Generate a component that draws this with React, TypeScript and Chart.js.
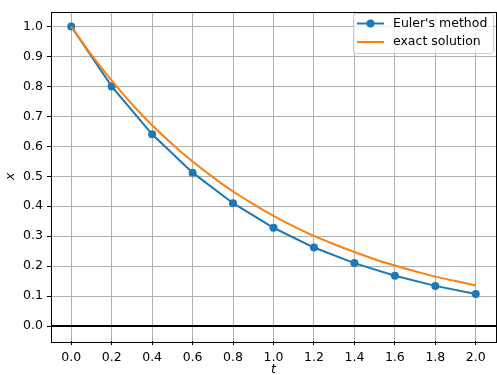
import React, { useEffect, useRef } from "react";
import { Chart, registerables } from "chart.js";

Chart.register(...registerables);

const eulerT = [0.0, 0.2, 0.4, 0.6, 0.8, 1.0, 1.2, 1.4, 1.6, 1.8, 2.0];
const eulerX = [1.0, 0.8, 0.64, 0.512, 0.41, 0.328, 0.262, 0.21, 0.168, 0.134, 0.107];

const exactT = [0.0, 0.1, 0.2, 0.3, 0.4, 0.5, 0.6, 0.7, 0.8, 0.9, 1.0, 1.1, 1.2, 1.3, 1.4, 1.5, 1.6, 1.7, 1.8, 1.9, 2.0];
const exactX = [1.0, 0.905, 0.819, 0.741, 0.67, 0.607, 0.549, 0.497, 0.449, 0.407, 0.368, 0.333, 0.301, 0.273, 0.247, 0.223, 0.202, 0.183, 0.165, 0.15, 0.135];

const xTicks = [0.0, 0.2, 0.4, 0.6, 0.8, 1.0, 1.2, 1.4, 1.6, 1.8, 2.0];
const yTicks = [0.0, 0.1, 0.2, 0.3, 0.4, 0.5, 0.6, 0.7, 0.8, 0.9, 1.0];

const seriesLabels = ["Euler's method", "exact solution"];
const BLUE = "#1f77b4";
const ORANGE = "#ff7f0e";
const FONT = "'DejaVu Sans', sans-serif";
const FS = 12.5;

export default function App() {
  const ref = useRef<HTMLCanvasElement>(null);

  useEffect(() => {
    if (!ref.current) return;

    const framePlugin = {
      id: "frame",
      beforeDatasetsDraw(chart: any) {
        const { ctx, chartArea, scales } = chart;
        const y0 = scales.y.getPixelForValue(0);
        ctx.save();
        ctx.strokeStyle = "#000";
        ctx.lineWidth = 2;
        ctx.beginPath();
        ctx.moveTo(chartArea.left, y0);
        ctx.lineTo(chartArea.right, y0);
        ctx.stroke();
        ctx.restore();
      },
      afterDraw(chart: any) {
        const { ctx, chartArea } = chart;
        ctx.save();
        ctx.strokeStyle = "#000";
        ctx.lineWidth = 1;
        ctx.strokeRect(
          Math.round(chartArea.left) + 0.5,
          Math.round(chartArea.top) + 0.5,
          Math.round(chartArea.right - chartArea.left),
          Math.round(chartArea.bottom - chartArea.top)
        );
        // legend
        const bx = 353.5, by = 13.5, bw = 140, bh = 40, r = 3;
        ctx.fillStyle = "rgba(255,255,255,0.8)";
        ctx.strokeStyle = "#cccccc";
        ctx.beginPath();
        ctx.moveTo(bx + r, by);
        ctx.lineTo(bx + bw - r, by);
        ctx.arcTo(bx + bw, by, bx + bw, by + r, r);
        ctx.lineTo(bx + bw, by + bh - r);
        ctx.arcTo(bx + bw, by + bh, bx + bw - r, by + bh, r);
        ctx.lineTo(bx + r, by + bh);
        ctx.arcTo(bx, by + bh, bx, by + bh - r, r);
        ctx.lineTo(bx, by + r);
        ctx.arcTo(bx, by, bx + r, by, r);
        ctx.closePath();
        ctx.fill();
        ctx.stroke();

        const rows = [
          { y: 23.5, color: BLUE, marker: true, label: seriesLabels[0] },
          { y: 42, color: ORANGE, marker: false, label: seriesLabels[1] },
        ];
        for (const row of rows) {
          ctx.strokeStyle = row.color;
          ctx.lineWidth = 2;
          ctx.beginPath();
          ctx.moveTo(357, row.y);
          ctx.lineTo(384, row.y);
          ctx.stroke();
          if (row.marker) {
            ctx.fillStyle = row.color;
            ctx.beginPath();
            ctx.arc(370.5, row.y, 4, 0, Math.PI * 2);
            ctx.fill();
          }
          ctx.fillStyle = "#000";
          ctx.font = `${FS}px ${FONT}`;
          ctx.textBaseline = "middle";
          ctx.textAlign = "left";
          ctx.fillText(row.label, 393, row.y);
        }
        ctx.restore();
      },
    };

    const chart = new Chart(ref.current, {
      type: "line",
      data: {
        datasets: [
          {
            label: seriesLabels[0],
            data: eulerT.map((t, i) => ({ x: t, y: eulerX[i] })),
            borderColor: BLUE,
            backgroundColor: BLUE,
            borderWidth: 2,
            pointRadius: 4,
            pointBorderWidth: 0,
            pointBackgroundColor: BLUE,
            order: 1,
          },
          {
            label: seriesLabels[1],
            data: exactT.map((t, i) => ({ x: t, y: exactX[i] })),
            borderColor: ORANGE,
            borderWidth: 2,
            pointRadius: 0,
            cubicInterpolationMode: "monotone",
            order: 0,
          },
        ],
      },
      options: {
        responsive: false,
        animation: false,
        devicePixelRatio: 1,
        layout: { padding: { left: 0, top: 6, right: 1, bottom: 0 } },
        plugins: { legend: { display: false }, tooltip: { enabled: false } },
        scales: {
          x: {
            type: "linear",
            min: -0.1,
            max: 2.1,
            afterBuildTicks: (s: any) => {
              s.ticks = xTicks.map((v) => ({ value: v }));
            },
            afterFit: (s: any) => {
              s.height = 34;
            },
            grid: { color: "#b0b0b0", lineWidth: 1, tickColor: "#000", tickLength: 4, drawTicks: true },
            border: { display: false },
            ticks: {
              color: "#000",
              padding: 5,
              font: { family: FONT, size: FS },
              callback: (v: any) => Number(v).toFixed(1),
            },
            title: {
              display: true,
              text: "t",
              color: "#000",
              font: { family: FONT, size: FS, style: "italic" },
              padding: { top: 0, bottom: -2 },
            },
          },
          y: {
            type: "linear",
            min: -0.05,
            max: 1.05,
            afterBuildTicks: (s: any) => {
              s.ticks = yTicks.map((v) => ({ value: v }));
            },
            afterFit: (s: any) => {
              s.width = 51;
            },
            grid: { color: "#b0b0b0", lineWidth: 1, tickColor: "#000", tickLength: 4, drawTicks: true },
            border: { display: false },
            ticks: {
              color: "#000",
              padding: 4,
              font: { family: FONT, size: FS },
              callback: (v: any) => Number(v).toFixed(1),
            },
            title: {
              display: true,
              text: "x",
              color: "#000",
              font: { family: FONT, size: FS, style: "italic" },
              padding: { top: 3, bottom: 0 },
            },
          },
        },
      },
      plugins: [framePlugin],
    } as any);

    return () => chart.destroy();
  }, []);

  return (
    <div style={{ position: "absolute", left: 0, top: 0, width: 497, height: 375, overflow: "hidden", background: "#fff" }}>
      <canvas ref={ref} width={500} height={375} style={{ display: "block" }} />
    </div>
  );
}
